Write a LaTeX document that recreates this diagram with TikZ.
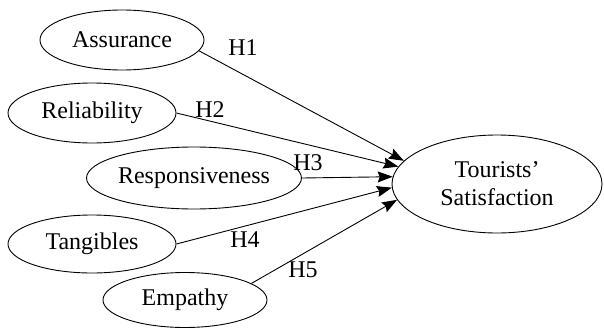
\documentclass[tikz,border=0pt]{standalone}
\usepackage{fontspec}
\setmainfont{Liberation Serif}
\usetikzlibrary{shapes.geometric,arrows.meta}

\begin{document}
\begin{tikzpicture}[x=1pt,y=-1pt,>={Stealth[length=15pt,width=11pt,inset=2pt]}]
  \tikzstyle{construct}=[draw,ellipse,inner sep=0pt,line width=0.9pt,
    font=\fontsize{24}{28}\selectfont,align=center]
  \tikzstyle{hyp}=[font=\fontsize{24}{28}\selectfont]
  \useasboundingbox (0,0) rectangle (604,329);
  \node[construct,minimum width=164pt,minimum height=60pt] (assur) at (122,40) {Assurance};
  \node[construct,minimum width=168pt,minimum height=60pt] (relia) at (92,113) {Reliability};
  \node[construct,minimum width=198pt,minimum height=62pt] (respo) at (194,178) {Responsiveness};
  \node[construct,minimum width=168pt,minimum height=58pt] (tangi) at (92,244) {Tangibles};
  \node[construct,minimum width=164pt,minimum height=55pt] (empat) at (185,300) {Empathy};
  \node[construct,minimum width=210pt,minimum height=98pt] (sat) at (497,184) {Tourists’\\Satisfaction};
  \draw[->,line width=0.9pt] (assur.-8)--(sat.166);
  \draw[->,line width=0.9pt] (relia.east)--(sat.170);
  \draw[->,line width=0.9pt] (respo.east)--(sat.176);
  \draw[->,line width=0.9pt] (tangi.east)--(sat.182);
  \draw[->,line width=0.9pt] (empat.14)--(sat.189);
  \node[hyp] (h1) at (243,48) {H1};
  \node[hyp] (h2) at (210,110) {H2};
  \node[hyp] (h3) at (308,163) {H3};
  \node[hyp] (h4) at (245,240) {H4};
  \node[hyp] (h5) at (303,270) {H5};
\end{tikzpicture}
\end{document}
